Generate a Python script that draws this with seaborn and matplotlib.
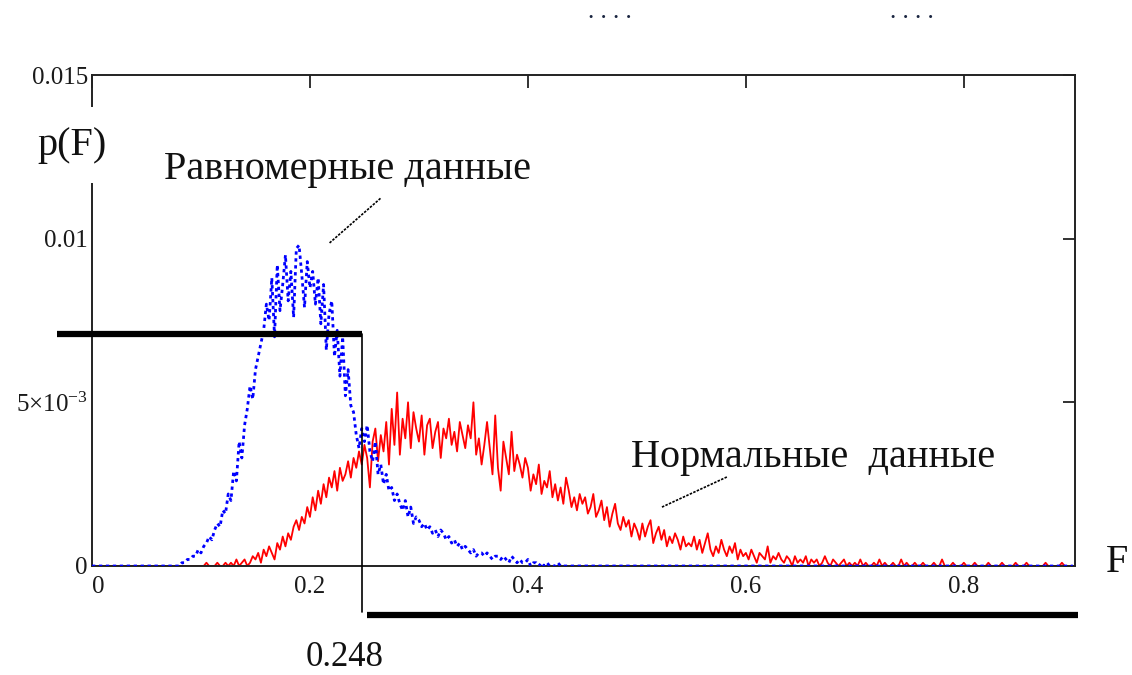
import numpy as np
import pandas as pd
import matplotlib
matplotlib.use("Agg")
import matplotlib.pyplot as plt
import seaborn as sns

# Histogram densities of the F statistic, sampled on a 0.0025 grid (values in units of 1e-4)
STEP = 0.0025
F_MAX = 0.9

normal_start = 0.100
normal_vals = [
    0, 0, 1, 0, 0, 0, 1, 0, 0, 1, 0, 1, 0, 2, 0, 1, 2, 0, 1, 3,
    2, 4, 1, 5, 3, 6, 4, 2, 7, 5, 9, 6, 10, 8, 12, 14, 11, 15, 13, 18,
    15, 21, 17, 23, 19, 25, 21, 27, 24, 29, 23, 30, 26, 28, 32, 27, 33, 30, 35, 31,
    37, 33, 24, 38, 42, 32, 40, 35, 44, 31, 48, 37, 53, 34, 45, 39, 50, 36, 47, 42,
    38, 46, 34, 43, 45, 36, 41, 44, 33, 42, 39, 45, 37, 41, 35, 44, 40, 36, 43, 39,
    50, 34, 39, 31, 37, 44, 36, 28, 46, 30, 23, 38, 33, 28, 41, 29, 34, 31, 27, 33,
    30, 23, 28, 25, 31, 22, 26, 24, 29, 21, 25, 20, 24, 19, 27, 23, 18, 21, 17, 22,
    19, 21, 16, 18, 22, 15, 17, 20, 14, 18, 12, 16, 19, 13, 11, 15, 12, 14, 9, 13,
    11, 8, 13, 9, 12, 14, 7, 10, 12, 8, 11, 6, 9, 7, 10, 8, 5, 9, 6, 7,
    6, 9, 5, 8, 4, 7, 10, 5, 3, 6, 4, 8, 5, 3, 6, 4, 7, 2, 5, 3,
    4, 2, 5, 3, 1, 4, 3, 2, 6, 1, 3, 2, 4, 2, 1, 3, 2, 0, 3, 1,
    2, 1, 3, 0, 2, 1, 2, 0, 1, 3, 1, 0, 2, 1, 0, 1, 2, 0, 1, 0,
    1, 0, 2, 0, 1, 0, 0, 1, 0, 2, 0, 1, 0, 0, 1, 0, 0, 2, 0, 1,
    0, 0, 1, 0, 0, 1, 0, 0, 0, 1, 0, 0, 2, 0, 0, 0, 1, 0, 0, 0,
    1, 0, 0, 0, 1, 0, 0, 0, 0, 1, 0, 0, 0, 0, 1, 0, 0, 0, 0, 1,
    0, 0, 0, 1, 0, 0, 0, 0, 0, 0, 1, 0, 0, 0, 0, 0, 1, 0, 0, 0,
    0,
]

uniform_start = 0.075
uniform_vals = [
    0, 0, 0, 1, 1, 2, 2, 3, 3, 5, 4, 6, 7, 9, 8, 11, 13, 12, 17, 16,
    22, 20, 29, 26, 38, 33, 43, 48, 55, 51, 60, 64, 68, 72, 80, 75, 88, 70, 92, 78,
    86, 95, 81, 90, 76, 97, 98, 89, 79, 93, 85, 90, 80, 88, 74, 86, 66, 77, 81, 64,
    72, 58, 70, 52, 60, 49, 47, 40, 36, 42, 38, 43, 35, 32, 38, 28, 31, 25, 28, 23,
    24, 20, 22, 19, 17, 20, 15, 18, 13, 15, 14, 12, 13, 11, 12, 10, 11, 9, 11, 10,
    8, 9, 7, 8, 6, 7, 5, 6, 5, 4, 5, 3, 4, 4, 3, 4, 3, 2, 3, 3,
    2, 3, 2, 1, 3, 2, 1, 2, 1, 1, 2, 0, 1, 1, 0, 1, 0, 1, 0, 0,
    0, 1, 0, 0, 0, 0, 0, 0, 0, 0, 0,
]

# Critical value of F and the probability level marked on the plot
F_CRIT = 0.248
P_LEVEL = 0.0071
P_BELOW = -0.0015

x_ticks = [0, 0.2, 0.4, 0.6, 0.8]
x_tick_labels = ["0", "0.2", "0.4", "0.6", "0.8"]
y_ticks = [0, 0.005, 0.01, 0.015]
y_tick_labels = ["0", r"$\mathregular{5{\times}10^{-3}}$", "0.01", "0.015"]

grid = np.round(np.arange(0, F_MAX + STEP / 2, STEP), 4)


def on_grid(start, vals):
    arr = np.zeros(len(grid))
    i0 = int(round(start / STEP))
    n = min(len(vals), len(grid) - i0)
    arr[i0:i0 + n] = np.asarray(vals[:n], dtype=float) * 1e-4
    return arr


df = pd.DataFrame({
    "F": grid,
    "normal": on_grid(normal_start, normal_vals),
    "uniform": on_grid(uniform_start, uniform_vals),
})

sns.set_theme(style="white")
plt.rcParams["font.family"] = ["Liberation Serif", "DejaVu Serif"]
plt.rcParams["mathtext.fontset"] = "custom"
plt.rcParams["mathtext.rm"] = "Liberation Serif"
plt.rcParams["mathtext.it"] = "Liberation Serif:italic"

W, H = 1132, 675
fig = plt.figure(figsize=(W / 100, H / 100), dpi=100)
ax = fig.add_axes([92 / W, 1 - 566 / H, (1075 - 92) / W, (566 - 75) / H])


def fx(px, py):
    return px / W, 1 - py / H


sns.lineplot(data=df, x="F", y="normal", color="#ff0000", linewidth=1.3,
             estimator=None, ax=ax, zorder=2)
sns.lineplot(data=df, x="F", y="uniform", color="#0000ff", linewidth=2.0,
             linestyle=(0, (1.2, 1.3)), estimator=None, ax=ax, zorder=3)

ax.set_xlim(0, 0.902)
ax.set_ylim(0, 0.015)
ax.set_xlabel("")
ax.set_ylabel("")
ax.set_xticks(x_ticks)
ax.set_xticklabels(x_tick_labels)
ax.set_yticks(y_ticks)
ax.set_yticklabels(y_tick_labels)
ax.tick_params(axis="both", direction="in", length=9, width=1.3, color="#222222",
               top=True, right=True, labelsize=18, labelcolor="#1a1a1a")
ax.tick_params(axis="x", pad=7)
ax.tick_params(axis="y", pad=3)
ax.get_xticklabels()[0].set_ha("left")
for s in ax.spines.values():
    s.set_visible(True)
    s.set_color("#222222")
    s.set_linewidth(1.4)
ax.grid(False)

# Critical-region markers
ax.plot([-0.032, F_CRIT], [P_LEVEL, P_LEVEL], color="black", lw=4.5,
        solid_capstyle="butt", clip_on=False, zorder=5)
ax.plot([F_CRIT, F_CRIT], [P_LEVEL, P_BELOW + 0.0001], color="black", lw=1.2,
        clip_on=False, zorder=5)
ax.plot([F_CRIT + 0.004, 0.905], [P_BELOW, P_BELOW], color="black", lw=4.5,
        solid_capstyle="butt", clip_on=False, zorder=5)

# Leader lines to the curve captions
ax.plot([0.218, 0.265], [0.00987, 0.01124], color="black", lw=1.2,
        linestyle=(0, (1.5, 0.8)), zorder=4)
ax.plot([0.523, 0.5826], [0.0018, 0.00272], color="black", lw=1.2,
        linestyle=(0, (1.5, 0.8)), zorder=4)

txt = dict(color="#111111", fontsize=29)
fig.text(*fx(72, 145), "p(F)", ha="center", va="center", zorder=6,
         bbox=dict(fc="white", ec="none", pad=14), **txt)
fig.text(*fx(348, 170), "Равномерные данные", ha="center", va="center", **txt)
fig.text(*fx(813, 458), "Нормальные  данные", ha="center", va="center", **txt)
fig.text(*fx(1117, 562), "F", ha="center", va="center", **txt)
fig.text(*fx(345, 658), "0.248", ha="center", va="center", color="#111111", fontsize=25)
fig.text(*fx(610, 12), ". . . .", ha="center", va="center", color="#1a2540", fontsize=18)
fig.text(*fx(912, 12), ". . . .", ha="center", va="center", color="#1a2540", fontsize=18)

fig.savefig("out.png", dpi=100)
